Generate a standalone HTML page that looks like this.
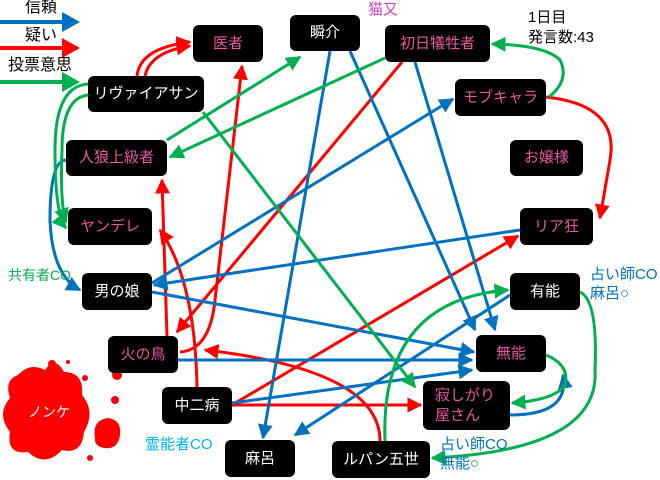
<!DOCTYPE html>
<html><head><meta charset="utf-8"><style>
body{margin:0;background:#fff;width:660px;height:480px;overflow:hidden;font-family:"Liberation Sans","Noto Sans CJK JP",sans-serif;}
.n{position:absolute;background:#000;border-radius:6px;color:#fff;font-size:15px;display:flex;align-items:center;justify-content:center;text-align:center;line-height:20px;}
.p{color:#e8579f;}
.t{position:absolute;font-size:14px;line-height:16px;white-space:nowrap;}
svg{position:absolute;left:0;top:0;}
</style></head><body>
<svg width="660" height="480" viewBox="0 0 660 480">
<defs>
<marker id="b" viewBox="0 0 10 10" refX="9" refY="5" markerWidth="5" markerHeight="5" orient="auto" markerUnits="strokeWidth"><path d="M0,0L10,5L0,10z" fill="#0070c0"/></marker>
<marker id="r" viewBox="0 0 10 10" refX="9" refY="5" markerWidth="5" markerHeight="5" orient="auto" markerUnits="strokeWidth"><path d="M0,0L10,5L0,10z" fill="#ff0000"/></marker>
<marker id="g" viewBox="0 0 10 10" refX="9" refY="5" markerWidth="5" markerHeight="5" orient="auto" markerUnits="strokeWidth"><path d="M0,0L10,5L0,10z" fill="#00b050"/></marker>
</defs>
<g stroke="none">
<path d="M0,20 H62 V12 L80,22 L62,32 V24 H0z" fill="#0070c0"/>
<path d="M0,46 H62 V38 L80,48 L62,58 V50 H0z" fill="#f00"/>
<path d="M0,80 H62 V72 L80,82 L62,92 V84 H0z" fill="#00b050"/>
</g>
<g fill="none" stroke-width="3">
<!-- blood -->
<g fill="#f00" stroke="none">
<path d="M18,375 Q30,362 45,370 Q55,355 64,372 Q84,372 82,395 Q96,412 84,432 Q82,455 62,450 Q45,468 28,452 Q6,455 10,432 Q-4,414 10,398 Q4,380 18,375z"/>
<path d="M95,438 Q92,420 108,418 Q122,420 120,435 Q118,450 104,448 Q94,446 95,438z"/>
<circle cx="117" cy="375" r="5"/><circle cx="52" cy="364" r="4"/><circle cx="85" cy="378" r="3"/><circle cx="90" cy="458" r="3"/><circle cx="68" cy="362" r="2"/><circle cx="115" cy="400" r="4"/>
</g>
<!-- red -->
<path d="M137,76 Q140,48 190,42" stroke="#f00" marker-end="url(#r)"/>
<path d="M145,76 Q150,52 190,46" stroke="#f00" marker-end="url(#r)"/>
<path d="M180,352 Q210,350 215,300 L242,66" stroke="#f00" marker-end="url(#r)"/>
<line x1="167" y1="336" x2="162" y2="180" stroke="#f00" marker-end="url(#r)"/>
<path d="M197,387 Q195,280 160,230" stroke="#f00" marker-end="url(#r)"/>
<line x1="402" y1="62" x2="177" y2="332" stroke="#f00" marker-end="url(#r)"/>
<line x1="232" y1="405" x2="518" y2="236" stroke="#f00" marker-end="url(#r)"/>
<line x1="232" y1="405" x2="421" y2="405" stroke="#f00" marker-end="url(#r)"/>
<path d="M380,441 Q380,370 205,350" stroke="#f00" marker-end="url(#r)"/>
<path d="M546,97 Q620,105 610,160 L600,218" stroke="#f00" marker-end="url(#r)"/>
<!-- blue -->
<line x1="330" y1="51" x2="263" y2="438" stroke="#0070c0" marker-end="url(#b)"/>
<line x1="350" y1="51" x2="475" y2="330" stroke="#0070c0" marker-end="url(#b)"/>
<line x1="415" y1="62" x2="495" y2="330" stroke="#0070c0" marker-end="url(#b)"/>
<line x1="152" y1="283" x2="453" y2="99" stroke="#0070c0" marker-end="url(#b)"/>
<line x1="520" y1="230" x2="154" y2="285" stroke="#0070c0" marker-end="url(#b)"/>
<line x1="152" y1="292" x2="474" y2="352" stroke="#0070c0" marker-end="url(#b)"/>
<line x1="178" y1="360" x2="472" y2="360" stroke="#0070c0" marker-end="url(#b)"/>
<line x1="232" y1="403" x2="472" y2="370" stroke="#0070c0" marker-end="url(#b)"/>
<line x1="510" y1="295" x2="295" y2="435" stroke="#0070c0" marker-end="url(#b)"/>
<path d="M66,160 Q50,160 50,220 Q52,275 80,290" stroke="#0070c0" marker-end="url(#b)"/>
<path d="M510,415 Q570,415 563,375" stroke="#0070c0" marker-end="url(#b)"/>
<!-- green -->
<line x1="167" y1="140" x2="300" y2="57" stroke="#00b050" marker-end="url(#g)"/>
<line x1="385" y1="58" x2="170" y2="157" stroke="#00b050" marker-end="url(#g)"/>
<line x1="203" y1="112" x2="415" y2="387" stroke="#00b050" marker-end="url(#g)"/>
<path d="M88,84 Q55,86 55,150 Q55,215 66,228" stroke="#00b050" marker-end="url(#g)"/>
<path d="M88,95 Q62,98 62,150 Q60,205 66,222" stroke="#00b050" marker-end="url(#g)"/>
<path d="M549,97 Q570,80 560,60 Q545,45 492,44" stroke="#00b050" marker-end="url(#g)"/>
<path d="M546,355 Q570,365 565,385 Q555,400 512,403" stroke="#00b050" marker-end="url(#g)"/>
<path d="M385,441 Q380,300 508,290" stroke="#00b050" marker-end="url(#g)"/>
<path d="M580,292 Q598,300 595,370 Q600,450 432,458" stroke="#00b050" marker-end="url(#g)"/>
</g>
</svg>
<div class="t" style="left:25px;top:0px;font-size:16px">信頼</div>
<div class="t" style="left:25px;top:28px;font-size:16px">疑い</div>
<div class="t" style="left:8px;top:58px;font-size:16px">投票意思</div>
<div class="t" style="left:28px;top:404px;color:#fff;font-size:14px">ノンケ</div>
<div class="t" style="left:368px;top:2px;color:#d63fc0;font-size:15px">猫又</div>
<div class="t" style="left:528px;top:8px;font-size:15px;line-height:20px">1日目<br>発言数:43</div>
<div class="t" style="left:8px;top:267px;color:#00b050">共有者CO</div>
<div class="t" style="left:145px;top:437px;color:#00b0f0;font-size:15px">霊能者CO</div>
<div class="t" style="left:590px;top:265px;color:#0070c0;font-size:15px;line-height:19px">占い師CO<br>麻呂○</div>
<div class="t" style="left:440px;top:435px;color:#0070c0;font-size:15px;line-height:19px">占い師CO<br>無能○</div>
<div class="n p" style="left:193px;top:25px;width:70px;height:37px">医者</div>
<div class="n" style="left:290px;top:15px;width:70px;height:36px">瞬介</div>
<div class="n p" style="left:385px;top:25px;width:105px;height:37px">初日犠牲者</div>
<div class="n p" style="left:455px;top:79px;width:91px;height:37px">モブキャラ</div>
<div class="n p" style="left:510px;top:140px;width:73px;height:36px">お嬢様</div>
<div class="n p" style="left:520px;top:208px;width:73px;height:37px">リア狂</div>
<div class="n" style="left:88px;top:76px;width:116px;height:36px">リヴァイアサン</div>
<div class="n p" style="left:66px;top:140px;width:101px;height:36px">人狼上級者</div>
<div class="n p" style="left:68px;top:208px;width:84px;height:37px">ヤンデレ</div>
<div class="n" style="left:82px;top:273px;width:70px;height:37px">男の娘</div>
<div class="n p" style="left:108px;top:336px;width:70px;height:37px">火の鳥</div>
<div class="n" style="left:162px;top:387px;width:70px;height:37px">中二病</div>
<div class="n" style="left:225px;top:440px;width:70px;height:37px">麻呂</div>
<div class="n" style="left:332px;top:441px;width:98px;height:37px">ルパン五世</div>
<div class="n p" style="left:423px;top:381px;width:87px;height:49px;justify-content:flex-start;padding-left:12px;box-sizing:border-box;text-align:left">寂しがり<br>屋さん</div>
<div class="n p" style="left:476px;top:335px;width:70px;height:37px">無能</div>
<div class="n" style="left:510px;top:273px;width:70px;height:37px">有能</div>
</body></html>
